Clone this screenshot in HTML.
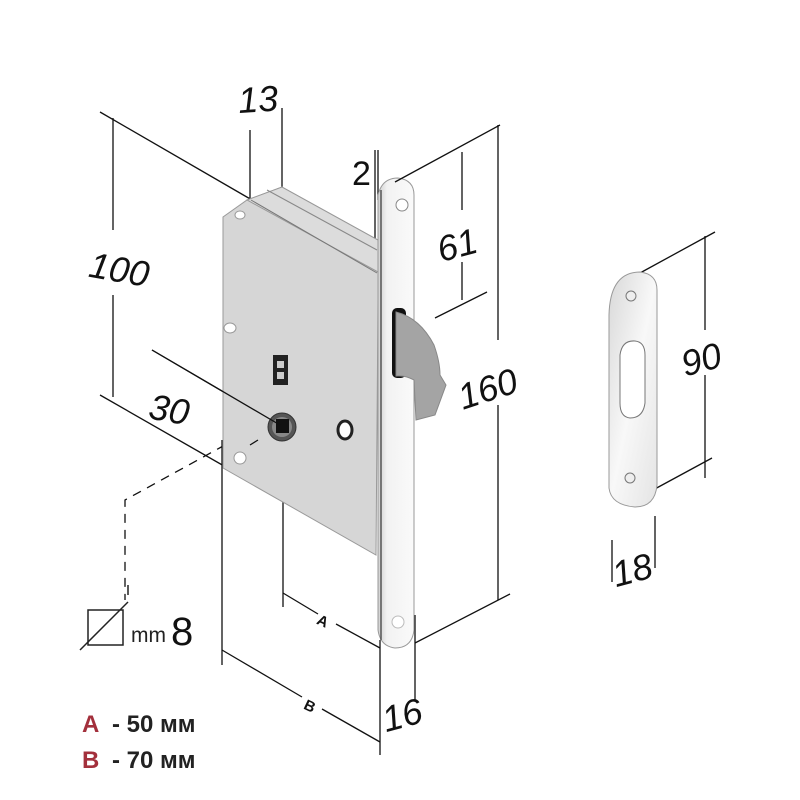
<!DOCTYPE html>
<html><head><meta charset="utf-8"><style>
html,body{margin:0;padding:0;background:#fff;}
svg{display:block;}
text{font-family:"Liberation Sans",sans-serif;}
</style></head><body>
<svg width="800" height="800" viewBox="0 0 800 800" xmlns="http://www.w3.org/2000/svg">
<defs>
<linearGradient id="fp" x1="0" x2="1" y1="0" y2="0">
<stop offset="0" stop-color="#cfcfcf"/><stop offset="0.25" stop-color="#f2f2f2"/><stop offset="1" stop-color="#fafafa"/>
</linearGradient>
<linearGradient id="sp" x1="0" x2="1" y1="0" y2="1">
<stop offset="0" stop-color="#d8d8d8"/><stop offset="0.5" stop-color="#f8f8f8"/><stop offset="1" stop-color="#e4e4e4"/>
</linearGradient>
</defs>
<g stroke="#111" stroke-width="1.3" fill="none">
<line x1="100" y1="112" x2="252" y2="200"/>
<line x1="100" y1="395" x2="245" y2="478"/>
<line x1="113" y1="118" x2="113" y2="230"/>
<line x1="113" y1="295" x2="113" y2="397"/>
<line x1="250" y1="130" x2="250" y2="200"/>
<line x1="282" y1="108" x2="282" y2="187"/>
<line x1="152" y1="350" x2="280" y2="425"/>
<path d="M225 445 L125 500 L125 600" stroke-dasharray="9 7"/>
<line x1="222" y1="440" x2="222" y2="665"/>
<line x1="222" y1="650" x2="302" y2="697"/>
<line x1="322" y1="709" x2="380" y2="742"/>
<line x1="283" y1="430" x2="283" y2="607"/>
<line x1="283" y1="593" x2="318" y2="614"/>
<line x1="336" y1="624" x2="380" y2="648"/>
<line x1="380" y1="640" x2="380" y2="755"/>
<line x1="415" y1="615" x2="415" y2="700"/>
<line x1="375" y1="150" x2="375" y2="300"/>
<line x1="378" y1="150" x2="378" y2="200"/>
</g>
<polygon points="247,200 282,187 378,240 378,300 376,555 223,468 223,217" fill="#d6d6d6" stroke="#9a9a9a" stroke-width="1"/>
<polygon points="247,200 282,187 378,240 378,272" fill="#dcdcdc" stroke="#999" stroke-width="1"/>
<line x1="251" y1="200" x2="377" y2="273" stroke="#777" stroke-width="1"/>
<line x1="267" y1="190" x2="377" y2="250" stroke="#888" stroke-width="1"/>
<ellipse cx="240" cy="215" rx="5" ry="4" fill="#fff" stroke="#999"/>
<ellipse cx="230" cy="328" rx="6" ry="5" fill="#fff" stroke="#999"/>
<ellipse cx="240" cy="458" rx="6" ry="6" fill="#fff" stroke="#999"/>
<rect x="273" y="355" width="15" height="30" fill="#222"/>
<rect x="277" y="361" width="7" height="7" fill="#ccc"/>
<rect x="277" y="372" width="7" height="7" fill="#ccc"/>
<circle cx="282" cy="427" r="14" fill="#555" stroke="#333"/>
<circle cx="282" cy="427" r="10" fill="#888"/>
<rect x="276" y="419" width="13" height="14" fill="#111"/>
<ellipse cx="345" cy="430" rx="7" ry="9" fill="#fff" stroke="#222" stroke-width="3"/>
<line x1="152" y1="350" x2="280" y2="425" stroke="#111" stroke-width="1.3"/>
<line x1="258" y1="440" x2="250" y2="445" stroke="#111" stroke-width="1.3"/>
<path d="M378 195 Q382 178 398 178 Q414 180 414 195 L414 630 Q412 648 395 648 Q380 646 378 630 Z" fill="url(#fp)" stroke="#999" stroke-width="1"/>
<line x1="381" y1="190" x2="381" y2="640" stroke="#555" stroke-width="1.5"/>
<circle cx="402" cy="205" r="6" fill="#fff" stroke="#888"/>
<circle cx="398" cy="622" r="6" fill="#fff" stroke="#bbb"/>
<rect x="392" y="308" width="14" height="70" rx="5" fill="#111"/>
<path d="M396 312 Q420 318 434 345 Q440 362 440 375 L446 385 L435 415 L416 420 L414 380 Q405 375 396 376 Z" fill="#a4a4a4" stroke="#888"/>
<g stroke="#111" stroke-width="1.3" fill="none">
<line x1="395" y1="182" x2="500" y2="125"/>
<line x1="462" y1="152" x2="462" y2="210"/>
<line x1="462" y1="262" x2="462" y2="300"/>
<line x1="435" y1="318" x2="487" y2="292"/>
<line x1="498" y1="125" x2="498" y2="340"/>
<line x1="498" y1="405" x2="498" y2="600"/>
<line x1="415" y1="643" x2="510" y2="594"/>
<line x1="640" y1="273" x2="715" y2="232"/>
<line x1="705" y1="236" x2="705" y2="330"/>
<line x1="705" y1="375" x2="705" y2="478"/>
<line x1="640" y1="497" x2="712" y2="458"/>
<line x1="612" y1="540" x2="612" y2="582"/>
<line x1="655" y1="516" x2="655" y2="568"/>
</g>
<path d="M609 315 Q610 272 640 272 Q657 274 657 290 L657 485 Q655 507 635 507 Q611 505 609 488 Z" fill="url(#sp)" stroke="#999"/>
<circle cx="631" cy="296" r="5" fill="#eee" stroke="#777"/>
<circle cx="630" cy="478" r="5" fill="#eee" stroke="#777"/>
<path d="M620 355 Q622 340 635 341 Q645 342 645 355 L645 403 Q643 418 630 418 Q620 417 620 403 Z" fill="#fff" stroke="#777"/>
<rect x="88" y="610" width="35" height="35" fill="none" stroke="#222" stroke-width="1.5"/>
<line x1="80" y1="650" x2="128" y2="602" stroke="#222" stroke-width="1.5"/>
<line x1="128" y1="585" x2="128" y2="595" stroke="#222" stroke-width="1.5"/>
<g fill="#111" font-size="36" font-style="italic">
<text x="238" y="112" transform="rotate(-4 255 100)">13</text>
<text x="352" y="185" font-size="34" font-style="normal">2</text>
<text x="90" y="282" transform="rotate(10 120 265)">100</text>
<text x="150" y="422" transform="rotate(10 170 405)">30</text>
<text x="437" y="258" transform="rotate(-15 455 245)">61</text>
<text x="455" y="400" transform="rotate(-18 490 380)">160</text>
<text x="680" y="372" transform="rotate(-15 700 355)">90</text>
<text x="612" y="583" transform="rotate(-15 630 570)">18</text>
<text x="382" y="728" transform="rotate(-15 400 715)">16</text>
<text x="171" y="645" font-size="40" font-style="normal">8</text>
</g>
<text x="131" y="642" font-size="21" fill="#222">mm</text>
<text x="318" y="627" font-size="15" font-weight="bold" fill="#111" transform="rotate(25 325 620)">A</text>
<text x="305" y="712" font-size="15" font-weight="bold" fill="#111" transform="rotate(25 312 705)">B</text>
<g font-size="24" font-weight="bold">
<text x="82" y="732" fill="#a3303c">A</text><text x="112" y="732" fill="#222">- 50 мм</text>
<text x="82" y="768" fill="#a3303c">B</text><text x="112" y="768" fill="#222">- 70 мм</text>
</g>
</svg>
</body></html>
